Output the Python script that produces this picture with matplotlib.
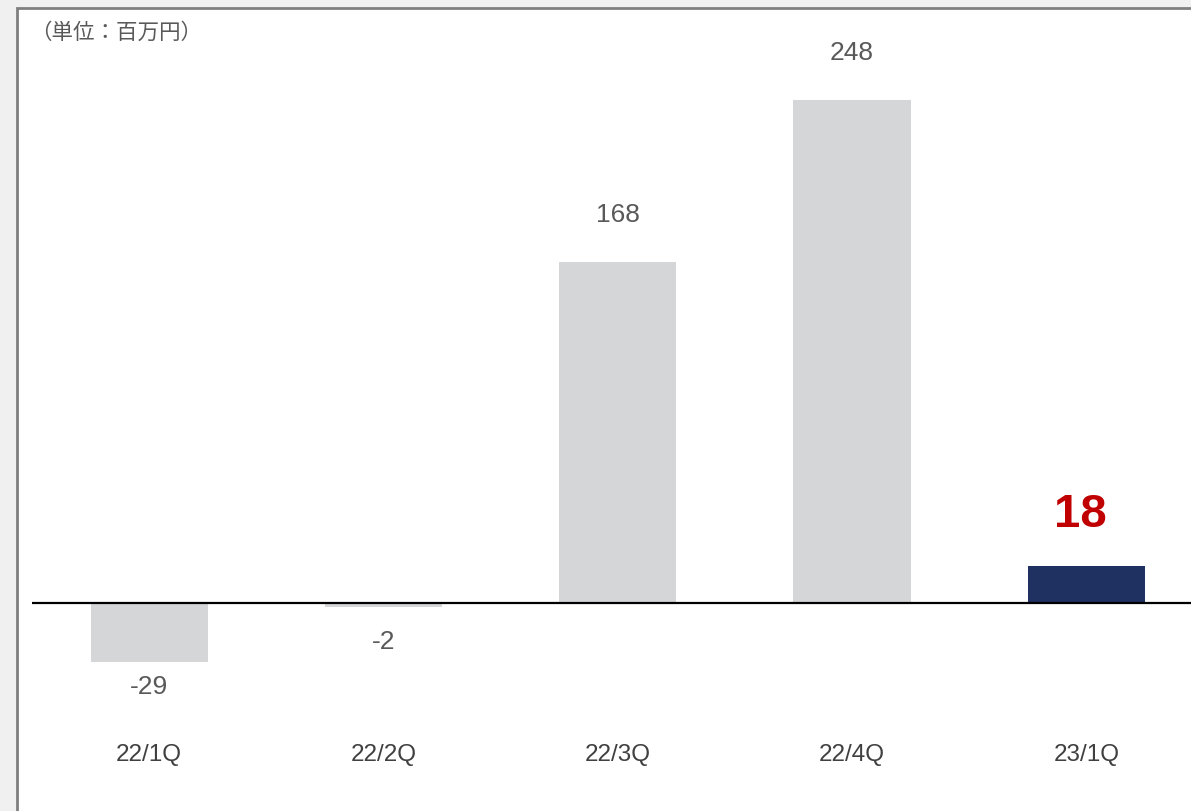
import matplotlib
matplotlib.use('Agg')
import matplotlib.pyplot as plt
import matplotlib.transforms as mtrans
from matplotlib.patches import Rectangle

# data
quarters = ['22/1Q', '22/2Q', '22/3Q', '22/4Q', '23/1Q']
profit = [-29, -2, 168, 248, 18]
bar_colors = ['#d5d6d8', '#d5d6d8', '#d5d6d8', '#d5d6d8', '#1f3161']
unit_label = '（単位：百万円）'

W, H = 1191, 811
fig = plt.figure(figsize=(W / 100, H / 100), dpi=100)
fig.patch.set_facecolor('#f0f0f0')

# white panel with grey border on left and top
panel = Rectangle((17 / W, -0.01), 1.02, (H - 8) / H + 0.01, transform=fig.transFigure,
                  facecolor='white', edgecolor='#7f7f7f', linewidth=2, zorder=-5)
fig.patches.append(panel)

ax = fig.add_axes([32 / W, 0, (W - 32) / W, (H - 8) / H])
ax.set_zorder(2)
ax.set_facecolor('none')
for s in ax.spines.values():
    s.set_visible(False)
ax.set_xticks([])
ax.set_yticks([])

x = range(len(quarters))
ax.bar(x, profit, width=0.5, color=bar_colors, zorder=2)
ax.axhline(0, color='black', linewidth=1.6, zorder=3)
ax.set_xlim(-0.5, 4.447)
ax.set_ylim(-102.6, 293.4)

font = ['Liberation Sans', 'DejaVu Sans']
for i, v in enumerate(profit):
    if i == len(profit) - 1:
        ax.annotate(str(v), xy=(i, v), xytext=(-4, 37), textcoords='offset points',
                    ha='center', va='center', fontsize=34, fontweight='bold',
                    color='#c00000', family=font)
    elif v >= 0:
        ax.annotate(str(v), xy=(i, v), xytext=(0, 34), textcoords='offset points',
                    ha='center', va='center', fontsize=19, color='#595959', family=font)
    else:
        off = 18 if v < -10 else 25
        ax.annotate(str(v), xy=(i, v), xytext=(0, -off), textcoords='offset points',
                    ha='center', va='center', fontsize=19, color='#595959', family=font)

trans = mtrans.blended_transform_factory(ax.transData, ax.transAxes)
for i, q in enumerate(quarters):
    ax.text(i, (H - 755) / (H - 8), q, transform=trans, ha='center', va='center',
            fontsize=17.5, color='#404040', family=font)

fig.text(30 / W, 1 - 33 / H, unit_label, ha='left', va='center', fontsize=15.5,
         color='#595959', family=['Noto Sans CJK JP', 'DejaVu Sans'], zorder=3)

fig.savefig('out.png', dpi=100, facecolor=fig.get_facecolor())
